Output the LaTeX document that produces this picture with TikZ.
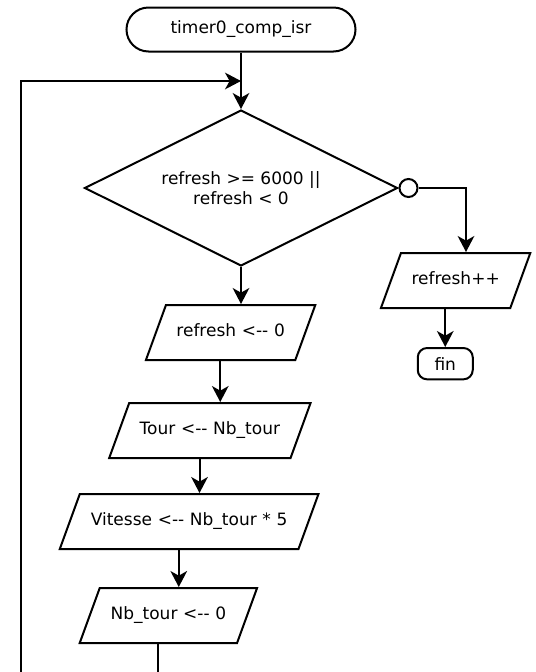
\documentclass[tikz,border=0pt]{standalone}
\usepackage{fontspec}
\setmainfont{DejaVu Sans}
\usetikzlibrary{shapes.geometric,arrows.meta}

\begin{document}
\begin{tikzpicture}[x=0.75pt,y=-0.75pt,line width=1.5pt,
		>={Stealth[length=12pt,width=12.5pt,inset=3.5pt]},
		every node/.style={font=\fontsize{12.75}{15}\selectfont},
		term/.style={rectangle,draw,rounded corners=16.5pt,minimum width=171.75pt,minimum height=33pt},
		io/.style={trapezium,draw,trapezium left angle=70,trapezium right angle=110,text height=9.5pt,text depth=3pt,inner ysep=14.375pt,inner xsep=0pt,align=center},
		test/.style={diamond,draw,aspect=2,inner sep=0pt,minimum width=234.75pt,minimum height=117pt,align=center},
		conn/.style={circle,draw,fill=white,inner sep=0pt,minimum size=13.5pt}]
	\useasboundingbox (0,0) rectangle (536,672);
	\node[term] (start) at (241,29.5) {timer0\_comp\_isr};
	\node[test] (dec) at (241,188) {refresh >= 6000 ||\\refresh < 0};
	\node[conn,anchor=west] (c) at (dec.east) {};
	\node[io,text width=97pt,anchor=top side] (r0) at (241,304) {refresh <-\kern0pt- 0};
	\node[io,text width=121pt,anchor=top side] (tour) at (r0.bottom side |- 0,402) {Tour <-\kern0pt- Nb\_tour};
	\node[io,text width=164pt,anchor=top side] (vit) at (tour.bottom side |- 0,493) {Vitesse <-\kern0pt- Nb\_tour * 5};
	\node[io,text width=103pt,anchor=top side] (nb) at (vit.bottom side |- 0,587) {Nb\_tour <-\kern0pt- 0};
	\node[io,text width=82pt,anchor=top side] (inc) at (466,252) {refresh++};
	\node[term,minimum width=41.25pt,minimum height=23.5pt,rounded corners=7pt,anchor=north] (fin) at (inc.bottom side |- 0,347) {fin};
	\coordinate (lp) at (21,672);
	\coordinate (mrg) at (241,81);

	\draw[->] (start) -- (dec);
	\draw[->] (lp) |- (mrg);
	\draw[->] (dec) -- (r0.top side);
	\draw[->] (r0.bottom side) -- (tour.top side);
	\draw[->] (tour.bottom side) -- (vit.top side);
	\draw[->] (vit.bottom side) -- (nb.top side);
	\draw (nb.bottom side) -- (nb.bottom side |- lp);
	\draw[->] (c) -| (inc.top side);
	\draw[->] (inc.bottom side) -- (fin);
\end{tikzpicture}
\end{document}
